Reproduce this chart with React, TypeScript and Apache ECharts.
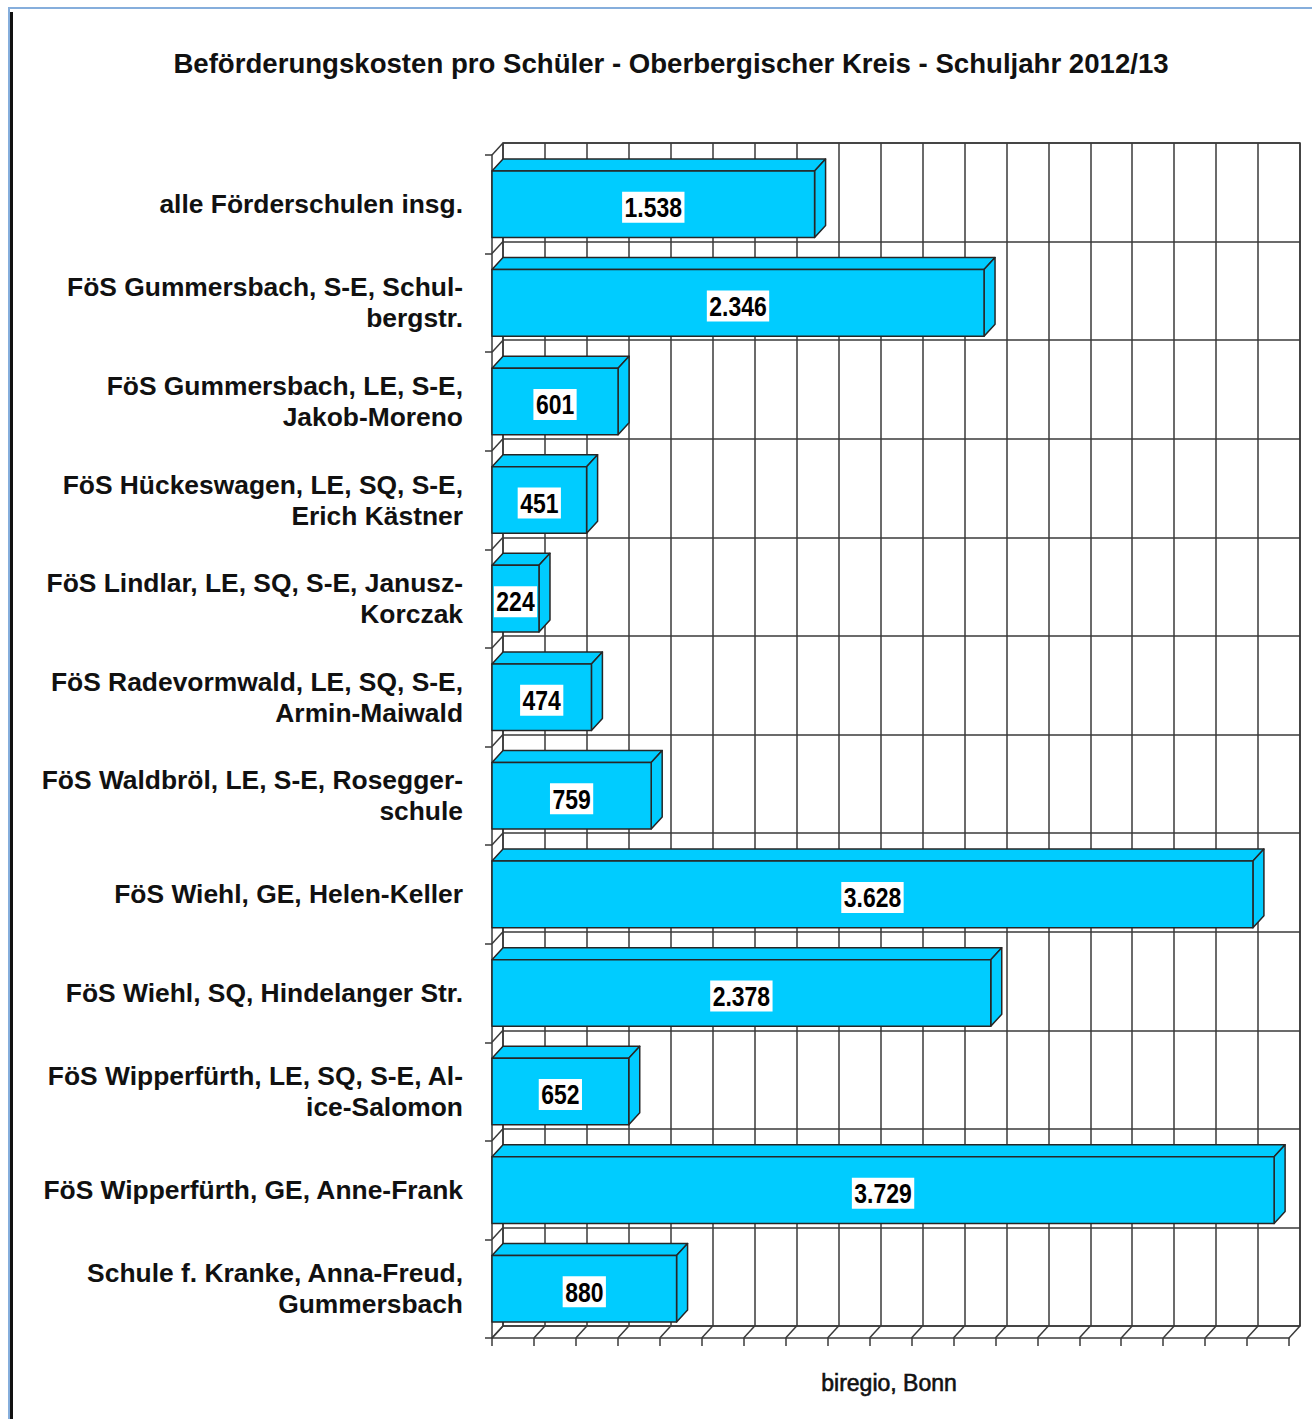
import React, { useEffect, useRef } from 'react';
import * as echarts from 'echarts';

const chartTitle = 'Beförderungskosten pro Schüler - Oberbergischer Kreis - Schuljahr 2012/13';
const sourceNote = 'biregio, Bonn';

const categories = [
  'alle Förderschulen insg.',
  'FöS Gummersbach, S-E, Schul-\nbergstr.',
  'FöS Gummersbach, LE, S-E,\nJakob-Moreno',
  'FöS Hückeswagen, LE, SQ, S-E,\nErich Kästner',
  'FöS Lindlar, LE, SQ, S-E, Janusz-\nKorczak',
  'FöS Radevormwald, LE, SQ, S-E,\nArmin-Maiwald',
  'FöS Waldbröl, LE, S-E, Rosegger-\nschule',
  'FöS Wiehl, GE, Helen-Keller',
  'FöS Wiehl, SQ, Hindelanger Str.',
  'FöS Wipperfürth, LE, SQ, S-E, Al-\nice-Salomon',
  'FöS Wipperfürth, GE, Anne-Frank',
  'Schule f. Kranke, Anna-Freud,\nGummersbach',
];

const values = [1538, 2346, 601, 451, 224, 474, 759, 3628, 2378, 652, 3729, 880];

const xTicks = [0, 200, 400, 600, 800, 1000, 1200, 1400, 1600, 1800, 2000, 2200, 2400, 2600, 2800, 3000, 3200, 3400, 3600, 3800];

const X_MIN = 0;
const X_MAX = 3800;
const X_STEP = 200;

const DX = 11;
const DY = -12;
const BAR_FILL = '#00CCFF';
const EDGE = '#262626';
const GRID_LINE = '#3a3a3a';

const fmt = (v: number) => String(Math.round(v)).replace(/\B(?=(\d{3})+(?!\d))/g, '.');

export default function App() {
  const ref = useRef<HTMLDivElement>(null);

  useEffect(() => {
    if (!ref.current) return;
    const chart = echarts.init(ref.current, undefined, { renderer: 'svg' });

    const frontGrid = { left: 492, top: 155, width: 797, height: 1183 };
    const backGrid = { left: frontGrid.left + DX, top: frontGrid.top + DY, width: 797, height: 1183 };

    const option: any = {
      animation: false,
      backgroundColor: '#ffffff',
      textStyle: { fontFamily: "'Liberation Sans', Arial, sans-serif" },
      graphic: [
        { type: 'rect', shape: { x: 8, y: 7, width: 1304, height: 2 }, style: { fill: '#86AEDC' }, silent: true },
        { type: 'rect', shape: { x: 8, y: 7, width: 2, height: 1412 }, style: { fill: '#86AEDC' }, silent: true },
        { type: 'rect', shape: { x: 10, y: 12, width: 3, height: 1407 }, style: { fill: '#111111' }, silent: true },
        {
          type: 'text',
          x: 671,
          y: 63,
          style: {
            text: chartTitle,
            fill: '#111111',
            font: "bold 27.6px 'Liberation Sans', Arial, sans-serif",
            align: 'center',
            verticalAlign: 'middle',
          },
        },
        {
          type: 'text',
          x: 889,
          y: 1383,
          style: {
            text: sourceNote,
            fill: '#111111',
            font: "23px 'Liberation Sans', Arial, sans-serif",
            align: 'center',
            verticalAlign: 'middle',
            stroke: '#111111',
            lineWidth: 0.6,
          },
        },
      ],
      grid: [
        {
          ...backGrid,
          show: true,
          borderColor: GRID_LINE,
          borderWidth: 1.5,
          backgroundColor: 'transparent',
        },
        { ...frontGrid },
      ],
      xAxis: [
        {
          type: 'value',
          gridIndex: 0,
          min: X_MIN,
          max: X_MAX,
          interval: X_STEP,
          axisLine: { show: false },
          axisTick: { show: false },
          axisLabel: { show: false },
          splitLine: { show: true, lineStyle: { color: GRID_LINE, width: 1.5 } },
        },
        {
          type: 'value',
          gridIndex: 1,
          min: X_MIN,
          max: X_MAX,
          interval: X_STEP,
          axisLine: { show: true, lineStyle: { color: GRID_LINE, width: 1.5 } },
          axisTick: { show: true, length: 8, lineStyle: { color: GRID_LINE, width: 1.5 } },
          axisLabel: { show: false },
          splitLine: { show: false },
        },
      ],
      yAxis: [
        {
          type: 'category',
          gridIndex: 0,
          data: categories,
          inverse: true,
          axisLine: { show: false },
          axisTick: { show: false },
          axisLabel: { show: false },
          splitLine: { show: true, lineStyle: { color: GRID_LINE, width: 1.5 } },
        },
        {
          type: 'category',
          gridIndex: 1,
          data: categories,
          inverse: true,
          axisLine: { show: true, lineStyle: { color: GRID_LINE, width: 1.5 } },
          axisTick: { show: true, length: 7, lineStyle: { color: GRID_LINE, width: 1.5 } },
          axisLabel: {
            show: true,
            margin: 29,
            color: '#111111',
            fontFamily: "'Liberation Sans', Arial, sans-serif",
            fontWeight: 'bold',
            fontSize: 26.4,
            lineHeight: 31,
            align: 'right',
          },
          splitLine: { show: false },
        },
      ],
      series: [
        {
          type: 'custom',
          name: 'wall',
          xAxisIndex: 1,
          yAxisIndex: 1,
          clip: false,
          silent: true,
          z: 1,
          data: categories.map((_, i) => [0, i]),
          encode: { x: 0, y: 1 },
          renderItem: (params: any, api: any) => {
            const idx = api.value(1);
            const c = api.coord([0, idx]);
            const band = api.size([0, 1])[1];
            const ys = [c[1] - band / 2];
            if (idx === categories.length - 1) ys.push(c[1] + band / 2);
            return {
              type: 'group',
              children: ys.map((y) => ({
                type: 'line',
                shape: { x1: c[0], y1: y, x2: c[0] + DX, y2: y + DY },
                style: { stroke: GRID_LINE, lineWidth: 1.5 },
              })),
            };
          },
        },
        {
          type: 'custom',
          name: 'floor',
          xAxisIndex: 1,
          yAxisIndex: 1,
          clip: false,
          silent: true,
          z: 1,
          data: xTicks.map((t) => [t, 0]),
          encode: { x: 0, y: 1 },
          renderItem: (params: any, api: any) => {
            const c = api.coord([api.value(0), 0]);
            const yb = params.coordSys.y + params.coordSys.height;
            return {
              type: 'line',
              shape: { x1: c[0], y1: yb, x2: c[0] + DX, y2: yb + DY },
              style: { stroke: GRID_LINE, lineWidth: 1.5 },
            };
          },
        },
        {
          type: 'custom',
          name: 'Beförderungskosten pro Schüler',
          xAxisIndex: 1,
          yAxisIndex: 1,
          clip: false,
          z: 3,
          data: values.map((v, i) => [v, i]),
          encode: { x: 0, y: 1 },
          renderItem: (params: any, api: any) => {
            const v = api.value(0);
            const idx = api.value(1);
            const s = api.coord([0, idx]);
            const e = api.coord([v, idx]);
            const band = api.size([0, 1])[1];
            const h = band * 0.675;
            const x0 = s[0];
            const x1 = e[0];
            const y0 = s[1] - h / 2;
            const y1 = s[1] + h / 2;
            const st = { fill: BAR_FILL, stroke: EDGE, lineWidth: 1.5, lineJoin: 'round' };
            return {
              type: 'group',
              children: [
                {
                  type: 'polygon',
                  shape: { points: [[x0, y0], [x1, y0], [x1 + DX, y0 + DY], [x0 + DX, y0 + DY]] },
                  style: st,
                },
                {
                  type: 'polygon',
                  shape: { points: [[x1, y0], [x1 + DX, y0 + DY], [x1 + DX, y1 + DY], [x1, y1]] },
                  style: st,
                },
                {
                  type: 'rect',
                  shape: { x: x0, y: y0, width: x1 - x0, height: h },
                  style: st,
                },
                {
                  type: 'text',
                  x: (x0 + x1) / 2,
                  y: s[1] + 3,
                  scaleX: 0.82,
                  style: {
                    text: fmt(v),
                    fill: '#000000',
                    font: "bold 28px 'Liberation Sans', Arial, sans-serif",
                    align: 'center',
                    verticalAlign: 'middle',
                    backgroundColor: '#ffffff',
                    padding: [2, 3, 0, 3],
                    lineHeight: 29,
                  },
                },
              ],
            };
          },
        },
      ],
    };

    chart.setOption(option);
    return () => chart.dispose();
  }, []);

  return (
    <div
      ref={ref}
      style={{ position: 'absolute', left: 0, top: 0, width: 1312, height: 1419, background: '#fff' }}
    />
  );
}
